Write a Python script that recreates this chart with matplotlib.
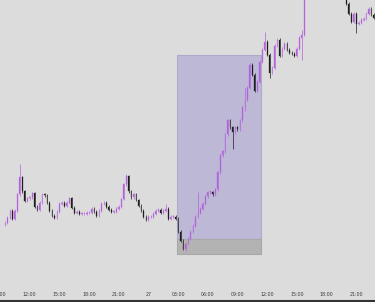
import matplotlib
matplotlib.use("Agg")
import matplotlib.pyplot as plt
import matplotlib.dates as mdates
from matplotlib.patches import Rectangle
import pandas as pd
import numpy as np

# ---- data (15-minute candles) ----
start_time = "2023-02-26 09:30"
closes = [76, 81, 88, 80, 88, 105, 122, 108, 98, 101,
          102, 106, 92, 89, 96, 105, 104, 96, 88, 83,
          81, 87, 95, 96, 93, 96, 101, 91, 86, 87,
          85, 85, 85, 86, 86, 90, 87, 83, 88, 95,
          96, 92, 89, 87, 87, 90, 92, 100, 115, 123,
          108, 102, 105, 99, 93, 88, 82, 79, 82, 82,
          85, 88, 89, 86, 88, 90, 80, 82, 82, 80,
          67, 58, 50, 55, 60, 67, 73, 82, 86, 90,
          95, 103, 107, 107, 105, 110, 127, 144, 148, 165,
          179, 172, 167, 172, 170, 179, 192, 200, 212, 235,
          225, 209, 218, 238, 250, 258, 245, 227, 232, 254,
          260, 244, 251, 256, 250, 247, 246, 244, 251, 262,
          265, 320, 330, 325, 318, 322, 328, 335, 330, 324,
          318, 312, 316, 322, 318, 312, 308, 310, 296, 286,
          278, 286, 276, 277, 280, 281, 286, 291, 285, 282]
first_open = 74
spike_highs = {6: 135, 49: 125, 65: 95, 78: 107, 97: 212, 105: 268, 120: 270}
spike_lows = {73: 48, 92: 150, 97: 188, 107: 222, 120: 240, 142: 267}

# highlighted range box
box_start = "2023-02-27 02:54"
box_end = "2023-02-27 11:24"
box_top = 245
box_mid = 60
box_bottom = 45

tick_times = ["2023-02-26 09:00", "2023-02-26 12:00", "2023-02-26 15:00",
              "2023-02-26 18:00", "2023-02-26 21:00", "2023-02-27 00:00",
              "2023-02-27 03:00", "2023-02-27 06:00", "2023-02-27 09:00",
              "2023-02-27 12:00", "2023-02-27 15:00", "2023-02-27 18:00",
              "2023-02-27 21:00"]
tick_labels = ["09:00", "12:00", "15:00", "18:00", "21:00", "27",
               "03:00", "06:00", "09:00", "12:00", "15:00", "18:00", "21:00"]

# ---- styling ----
bg = "#dcdcdc"
up_col = "#b462dc"
down_col = "#1e1e1e"

times = pd.date_range(start_time, periods=len(closes), freq="15min")
xs = mdates.date2num(times)
opens = [first_open] + closes[:-1]

fig = plt.figure(figsize=(3.75, 3.02), dpi=100, facecolor=bg)
ax = fig.add_axes([0, 1.5 / 302, 1, 1 - 1.5 / 302])
ax.set_facecolor(bg)

# box
bx0 = mdates.date2num(pd.Timestamp(box_start))
bx1 = mdates.date2num(pd.Timestamp(box_end))
ax.add_patch(Rectangle((bx0, box_mid), bx1 - bx0, box_top - box_mid,
                       facecolor="#bcb8d6", edgecolor="#aeaacb", lw=0.8, zorder=1))
ax.add_patch(Rectangle((bx0, box_bottom), bx1 - bx0, box_mid - box_bottom,
                       facecolor="#b3b3b3", edgecolor="#a8a8a8", lw=0.8, zorder=1))

w = (xs[1] - xs[0]) * 0.3
for i, (x, o, c) in enumerate(zip(xs, opens, closes)):
    col = up_col if c >= o else down_col
    hi = spike_highs.get(i, max(o, c) + 1.5)
    lo = spike_lows.get(i, min(o, c) - 1.5)
    ax.vlines(x, lo, hi, color=col, lw=0.5, zorder=2)
    ax.add_patch(Rectangle((x - w / 2, min(o, c)), w, max(abs(c - o), 0.6),
                           facecolor=col, edgecolor=col, lw=0.2, zorder=3))

ax.set_xlim(mdates.date2num(pd.Timestamp("2023-02-26 09:24")),
            mdates.date2num(pd.Timestamp("2023-02-27 22:54")))
ax.set_ylim(-2, 300)

ax.set_xticks(mdates.date2num(pd.to_datetime(tick_times)))
ax.set_xticklabels(tick_labels)
ax.tick_params(axis="x", direction="in", length=0, pad=-6, labelsize=3.4,
               labelcolor="#3a3a3a")
ax.set_yticks([])
for s in ["top", "left", "right"]:
    ax.spines[s].set_visible(False)
ax.spines["bottom"].set_color("#333333")
ax.spines["bottom"].set_linewidth(1.5)

fig.savefig("out.png", dpi=100, facecolor=bg)
